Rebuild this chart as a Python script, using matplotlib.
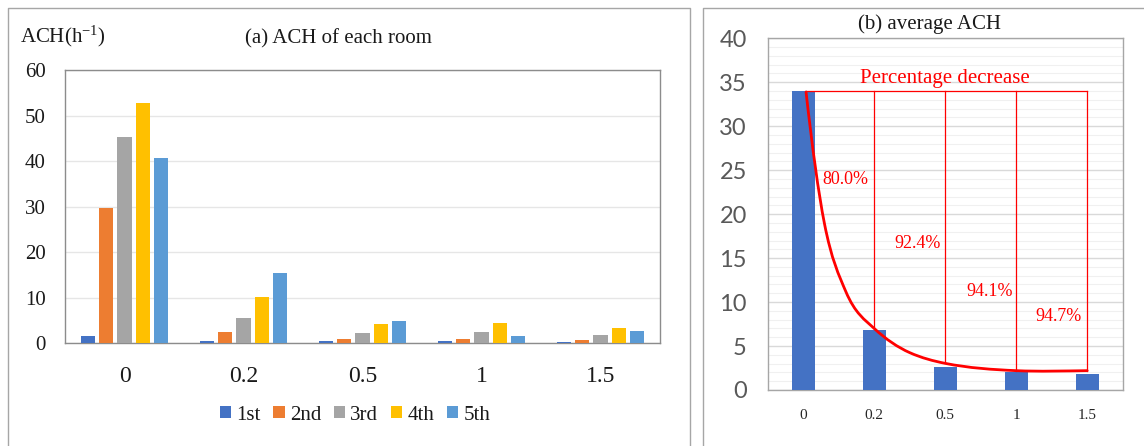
import matplotlib
matplotlib.use("Agg")
import matplotlib.pyplot as plt
from matplotlib.path import Path
from matplotlib.patches import PathPatch, Patch
from matplotlib.lines import Line2D
import numpy as np

plt.rcParams['mathtext.fontset'] = 'custom'
plt.rcParams['mathtext.rm'] = 'Liberation Serif'
plt.rcParams['mathtext.it'] = 'Liberation Serif:italic'

SERIF = ['Liberation Serif', 'DejaVu Serif']
SANS = ['Lato', 'Liberation Sans', 'DejaVu Sans']

# ---- data -------------------------------------------------------------
categories = ['0', '0.2', '0.5', '1', '1.5']
room_labels = ['1st', '2nd', '3rd', '4th', '5th']
room_1st = [1.7, 0.4, 0.5, 0.4, 0.3]
room_2nd = [29.6, 2.4, 1.0, 1.0, 0.8]
room_3rd = [45.4, 5.6, 2.2, 2.4, 1.8]
room_4th = [52.7, 10.2, 4.3, 4.5, 3.4]
room_5th = [40.6, 15.4, 4.9, 1.7, 2.7]
room_colors = ['#4472C4', '#ED7D31', '#A5A5A5', '#FFC000', '#5B9BD5']

rooms = np.array([room_1st, room_2nd, room_3rd, room_4th, room_5th])
average_ach = rooms.mean(axis=0)   # 34.0, 6.8, 2.58, 2.0, 1.8

# hand-drawn decay curve on panel (b): nodes and tangent slopes
trend_nodes = [(0.04, 33.9), (0.3, 18.9), (0.6, 11.2), (1.0, 7.0),
               (1.5, 4.25), (2.0, 3.03), (3.0, 2.2), (4.0, 2.2)]
trend_slopes = [-72, -41, -19, -7.5, -3.6, -1.6, -0.35, 0.1]

fig = plt.figure(figsize=(11.44, 4.46), dpi=100)
W, H = 1144, 446


def fx(px):
    return px / W


def fy(py):
    return 1 - py / H


# ---- panel borders ---------------------------------------------------
border_kw = dict(color='#a6a6a6', lw=1.0, transform=fig.transFigure)
fig.add_artist(Line2D([fx(8), fx(8), fx(690), fx(690)], [0, fy(8), fy(8), 0], **border_kw))
fig.add_artist(Line2D([fx(703), fx(703), 1.0], [0, fy(8), fy(8)], **border_kw))

# ---- panel (a) -------------------------------------------------------
axa = fig.add_axes([fx(65), fy(343.3), fx(660 - 65), fy(70) - fy(343.3)])
x = np.arange(len(categories))
slot = 0.154
width = 0.118
for i, (vals, lab, col) in enumerate(zip(rooms, room_labels, room_colors)):
    axa.bar(x + (i - 2) * slot, vals, width, color=col, label=lab, zorder=3)
axa.set_xlim(-0.5, 4.5)
axa.set_ylim(0, 60)
axa.set_yticks(range(0, 61, 10))
axa.set_xticks(x)
axa.set_xticklabels(categories)
axa.yaxis.grid(True, color='#e6e6e6', lw=1.0, zorder=0)
axa.tick_params(axis='both', length=0)
axa.tick_params(axis='y', pad=14, labelsize=15, labelcolor='#1a1a1a')
axa.tick_params(axis='x', pad=16, labelsize=17, labelcolor='#1a1a1a')
for lab in axa.get_xticklabels() + axa.get_yticklabels():
    lab.set_family(SERIF)
for sp in axa.spines.values():
    sp.set_color('#8c8c8c')
    sp.set_linewidth(1.0)

fig.text(fx(20), fy(36.7), r'ACH(h$^{\mathregular{-1}}$)', family=SERIF, fontsize=15,
         color='#1a1a1a', ha='left', va='center')
fig.text(fx(338), fy(39), '(a) ACH of each room', family=SERIF, fontsize=15,
         color='#1a1a1a', ha='center', va='center')

handles = [Patch(facecolor=c, edgecolor='none') for c in room_colors]
fig.legend(handles, room_labels, loc='center', bbox_to_anchor=(fx(355), fy(415)),
           ncol=5, frameon=False, prop={'family': SERIF, 'size': 15},
           handlelength=0.55, handleheight=0.55, handletextpad=0.25,
           columnspacing=0.6, labelcolor='#1a1a1a')

# ---- panel (b) -------------------------------------------------------
axb = fig.add_axes([fx(767.7), fy(390), fx(1122.7 - 767.7), fy(38.3) - fy(390)])
axb.bar(x, average_ach, 0.32, color='#4472C4', zorder=3)
axb.set_xlim(-0.5, 4.5)
axb.set_ylim(0, 40)
axb.set_yticks(range(0, 41, 5))
axb.set_yticks(range(0, 41, 1), minor=True)
axb.set_xticks(x)
axb.set_xticklabels(categories)
axb.yaxis.grid(True, which='major', color='#d9d9d9', lw=1.0, zorder=0)
axb.yaxis.grid(True, which='minor', color='#f0f0f0', lw=0.8, zorder=0)
axb.tick_params(axis='both', which='both', length=0)
axb.tick_params(axis='y', pad=15, labelsize=17, labelcolor='#595959')
axb.tick_params(axis='x', pad=14, labelsize=11, labelcolor='#262626')
for lab in axb.get_yticklabels():
    lab.set_family(SANS)
for lab in axb.get_xticklabels():
    lab.set_family(SERIF)
for sp in axb.spines.values():
    sp.set_color('#a6a6a6')
    sp.set_linewidth(1.0)

fig.text(fx(930), fy(24), '(b) average ACH', family=SERIF, fontsize=15,
         color='#1a1a1a', ha='center', va='center')

red = '#ff0000'
top = average_ach[0]
# frame of the percentage-decrease annotation
axb.plot([trend_nodes[0][0], trend_nodes[-1][0]], [top, top], color=red, lw=0.9, zorder=4)
for nx, ny in trend_nodes:
    if nx in (1.0, 2.0, 3.0, 4.0):
        axb.plot([nx, nx], [top, ny], color=red, lw=0.9, zorder=4)

# smooth decay curve built from cubic Bezier segments
verts = [trend_nodes[0]]
codes = [Path.MOVETO]
for (x0, y0), (x1, y1), m0, m1 in zip(trend_nodes[:-1], trend_nodes[1:],
                                      trend_slopes[:-1], trend_slopes[1:]):
    d = (x1 - x0) / 3.0
    verts += [(x0 + d, y0 + m0 * d), (x1 - d, y1 - m1 * d), (x1, y1)]
    codes += [Path.CURVE4] * 3
axb.add_patch(PathPatch(Path(verts, codes), facecolor='none', edgecolor=red, lw=2.0,
                        zorder=5, capstyle='round'))

axb.text(2.0, 34.93, 'Percentage decrease', family=SERIF, fontsize=15, color=red,
         ha='center', va='baseline', zorder=6)

label_pos = [(0.593, 23.9), (1.617, 16.7), (2.627, 11.2), (3.6, 8.35)]
for (lx, ly), v in zip(label_pos, average_ach[1:]):
    pct = (1 - v / average_ach[0]) * 100
    axb.text(lx, ly, f'{pct:.1f}%', family=SERIF, fontsize=13, color=red,
             ha='center', va='center', zorder=6)

fig.savefig('out.png', dpi=100)
